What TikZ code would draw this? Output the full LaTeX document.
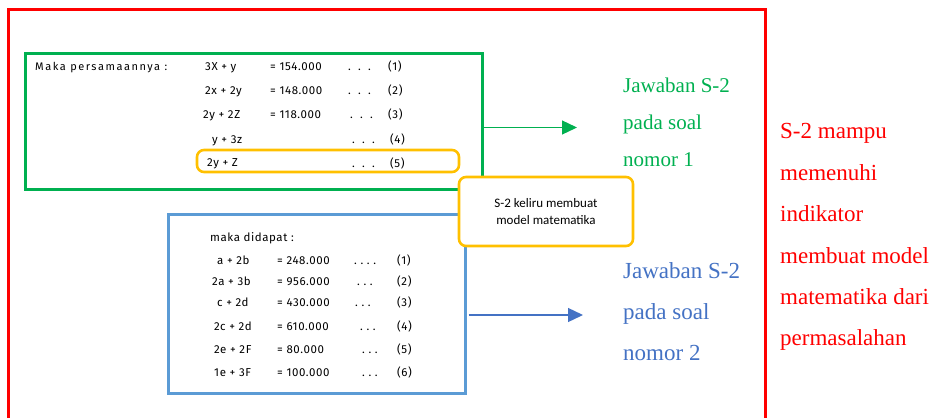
\documentclass[tikz,border=0pt]{standalone}
\usepackage{fontspec}
\setmainfont{Liberation Serif}
\newfontfamily\handfont[LetterSpace=5]{Fira Sans}
\newfontfamily\widehand[LetterSpace=14]{Fira Sans}
\newfontfamily\notefont{Carlito}
\usetikzlibrary{arrows.meta}
\definecolor{boxgreen}{RGB}{0,176,80}
\definecolor{boxblue}{RGB}{91,155,213}
\definecolor{txtblue}{RGB}{68,114,196}
\definecolor{boxyellow}{RGB}{255,192,0}

\begin{document}
\begin{tikzpicture}[x=1pt,y=-1pt,
  answerbox/.style={draw, line width=3pt, inner sep=0pt},
  errbox/.style={draw=boxyellow, line width=2.6pt, rounded corners=7pt, inner sep=0pt},
  hand/.style={font=\handfont\fontsize{11.5}{13}\selectfont, anchor=base west, inner sep=0pt},
  label/.style={anchor=north west, inner sep=0pt, align=left},
  link/.style={-{Triangle[length=15pt,width=14pt]}, line width=1.3pt}
]
  \useasboundingbox (0,0) rectangle (938,418);

  % Outer red frame (open at the bottom)
  \draw[red, line width=3pt] (8,430) |- (765,9) -- (765,430);

  % Answer to question 1
  \node[answerbox, draw=boxgreen, minimum width=457pt, minimum height=136pt] (soal1) at (253.5,121) {};
  \node[hand, font=\widehand\fontsize{11}{13}\selectfont] (intro1) at (35,70) {Maka persamaannya :};
  \node[hand] (l11) at (205,70) {3X + y}; \node[hand] (r11) at (270,70) {= 154.000};
  \node[hand] (d11) at (348,70) {.\ \ .\ \ .}; \node[hand] (n11) at (388,70) {(1)};
  \node[hand] (l12) at (205,94) {2x + 2y}; \node[hand] (r12) at (270,94) {= 148.000};
  \node[hand] (d12) at (348,94) {.\ \ .\ \ .}; \node[hand] (n12) at (388,94) {(2)};
  \node[hand] (l13) at (203,118) {2y + 2Z}; \node[hand] (r13) at (270,118) {= 118.000};
  \node[hand] (d13) at (350,118) {.\ \ .\ \ .}; \node[hand] (n13) at (388,118) {(3)};
  \node[hand] (l14) at (212,143) {y + 3z};
  \node[hand] (d14) at (352,143) {.\ \ .\ \ .}; \node[hand] (n14) at (390,143) {(4)};
  \node[hand] (l15) at (207,166) {2y + Z};
  \node[hand] (d15) at (352,167) {.\ \ .\ \ .}; \node[hand] (n15) at (390,167) {(5)};
  \node[errbox, minimum width=262pt, minimum height=22pt] (wrong5) at (328,161) {};

  % Answer to question 2
  \node[answerbox, draw=boxblue, minimum width=297pt, minimum height=179pt] (soal2) at (316.5,303.5) {};
  \node[hand] (intro2) at (210,241) {maka didapat :};
  \node[hand] (l21) at (217,264) {a + 2b}; \node[hand] (r21) at (277,264) {= 248.000};
  \node[hand] (d21) at (354,264) {.\ .\ .\ .}; \node[hand] (n21) at (397,264) {(1)};
  \node[hand] (l22) at (212,285) {2a + 3b}; \node[hand] (r22) at (277,285) {= 956.000};
  \node[hand] (d22) at (357,285) {.\ .\ .}; \node[hand] (n22) at (397,285) {(2)};
  \node[hand] (l23) at (217,306) {c + 2d}; \node[hand] (r23) at (277,306) {= 430.000};
  \node[hand] (d23) at (355,306) {.\ .\ .}; \node[hand] (n23) at (397,306) {(3)};
  \node[hand] (l24) at (214,330) {2c + 2d}; \node[hand] (r24) at (277,330) {= 610.000};
  \node[hand] (d24) at (360,330) {.\ .\ .}; \node[hand] (n24) at (397,330) {(4)};
  \node[hand] (l25) at (214,353) {2e + 2F}; \node[hand] (r25) at (277,353) {= 80.000};
  \node[hand] (d25) at (362,353) {.\ .\ .}; \node[hand] (n25) at (397,353) {(5)};
  \node[hand] (l26) at (214,376) {1e + 3F}; \node[hand] (r26) at (277,376) {= 100.000};
  \node[hand] (d26) at (362,376) {.\ .\ .}; \node[hand] (n26) at (397,376) {(6)};

  % Callout
  \node[errbox, fill=white, minimum width=174pt, minimum height=69pt, align=center,
        font=\notefont\fontsize{13}{17}\selectfont] (note) at (546,211.5)
        {S-2 keliru membuat\\model matematika};

  % Labels
  \node[label, text=boxgreen, font=\fontsize{21}{37}\selectfont] (lbl1) at (623,78)
        {Jawaban S-2\\pada soal\\nomor 1};
  \node[label, text=txtblue, font=\fontsize{23}{41}\selectfont] (lbl2) at (623,262.5)
        {Jawaban S-2\\pada soal\\nomor 2};
  \node[label, text=red, font=\fontsize{23}{41.4}\selectfont] (verdict) at (780,123.5)
        {S-2 mampu\\memenuhi\\indikator\\membuat model\\matematika dari\\permasalahan};

  % Arrows
  \coordinate (tip1) at (577,127.5);
  \coordinate (tip2) at (583,315);
  \draw[link, boxgreen] (soal1.east |- tip1) -- (tip1);
  \draw[link, txtblue] (soal2.east |- tip2) ++(2,0) -- (tip2);
\end{tikzpicture}
\end{document}
